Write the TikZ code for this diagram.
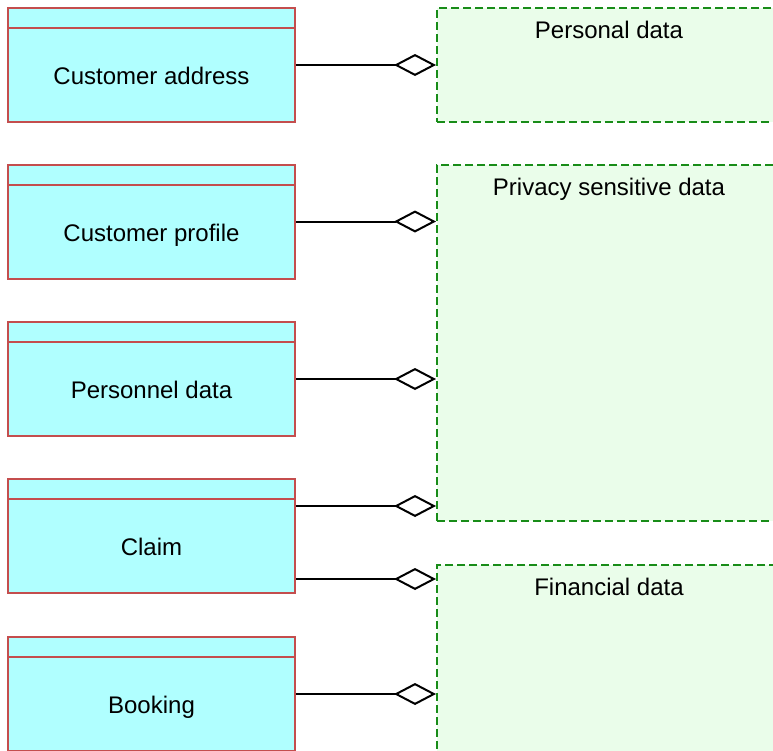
\documentclass[tikz,border=0pt]{standalone}
\usepackage{fontspec}
\setmainfont{Liberation Sans}
\usepackage{tikz}
\usetikzlibrary{arrows.meta}

\definecolor{classfill}{RGB}{176,255,255}
\definecolor{classedge}{RGB}{196,78,78}
\definecolor{groupfill}{RGB}{234,253,234}
\definecolor{groupedge}{RGB}{24,140,24}

\begin{document}
\begin{tikzpicture}[x=1pt,y=-1pt,
		classbox/.style={draw=classedge, fill=classfill, line width=2pt, minimum width=287pt, minimum height=114pt, inner sep=0pt, text height=39pt, text depth=0pt, font=\fontsize{24}{29}\selectfont},
		groupbox/.style={draw=groupedge, fill=groupfill, line width=2pt, dash pattern=on 8pt off 4pt, minimum width=344pt, inner sep=0pt},
		grouptitle/.style={anchor=north, inner sep=0pt, yshift=-14pt, font=\fontsize{24}{29}\selectfont},
		aggr/.style={line width=2pt, -{Diamond[open, length=42pt, width=22pt, fill=white]}}]
		\clip (0,0) rectangle (773,750);
		% groups
		\node[groupbox, minimum height=114pt, label={[grouptitle]north:Personal data}] (personal) at (609,65) {};
		\node[groupbox, minimum height=356pt, label={[grouptitle]north:Privacy sensitive data}] (privacy) at (609,343) {};
		\node[groupbox, minimum height=300pt, label={[grouptitle]north:Financial data}] (financial) at (609,715) {};
		% classes
		\node[classbox] (address) at (151.5,65) {Customer address};
		\node[classbox] (profile) at (151.5,221.5) {Customer profile};
		\node[classbox] (personnel) at (151.5,379) {Personnel data};
		\node[classbox] (claim) at (151.5,536) {Claim};
		\node[classbox] (booking) at (151.5,694) {Booking};
		\foreach \c in {address,profile,personnel,claim,booking}
			\draw[draw=classedge, line width=2pt] ([yshift=-21pt]\c.north west) -- ([yshift=-21pt]\c.north east);
		% aggregations
		\draw[aggr] (address.east) -- (address.east -| personal.west);
		\draw[aggr] (profile.east) -- (profile.east -| privacy.west);
		\draw[aggr] (personnel.east) -- (personnel.east -| privacy.west);
		\draw[aggr] ([yshift=-28pt]claim.north east) coordinate (c1) -- (c1 -| privacy.west);
		\draw[aggr] ([yshift=15pt]claim.south east) coordinate (c2) -- (c2 -| financial.west);
		\draw[aggr] ([yshift=-58pt]booking.north east) coordinate (c3) -- (c3 -| financial.west);
\end{tikzpicture}
\end{document}
